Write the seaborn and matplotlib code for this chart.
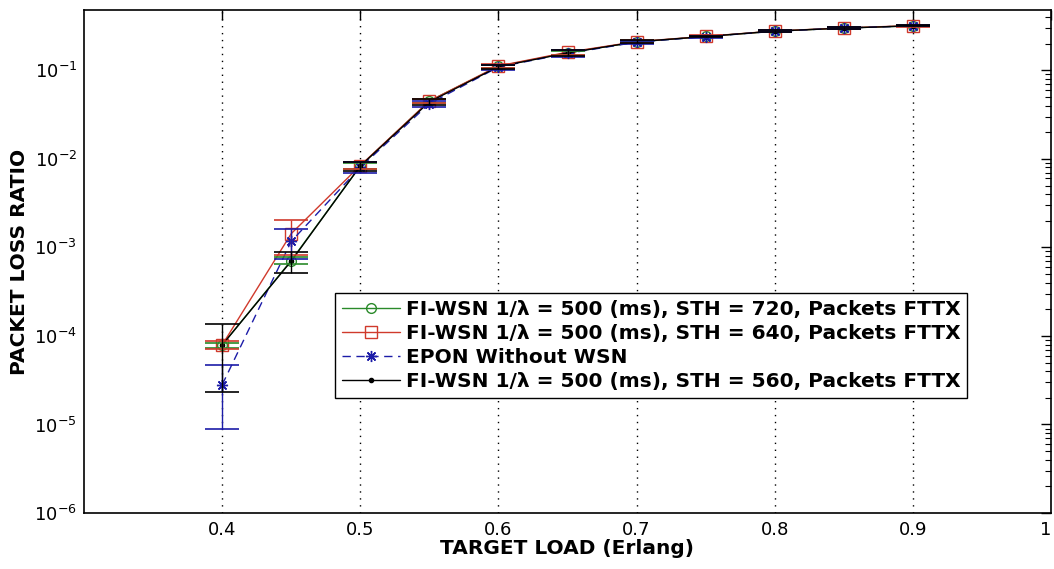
import numpy as np
import pandas as pd
import matplotlib
matplotlib.use("Agg")
import matplotlib.pyplot as plt
import matplotlib.transforms as mtransforms
import seaborn as sns
from matplotlib.ticker import LogLocator, FixedLocator, NullFormatter

# ---------------- data ----------------
load = [0.4, 0.45, 0.5, 0.55, 0.6, 0.65, 0.7, 0.75, 0.8, 0.85, 0.9]

sth720 = [7.9e-5, 7.1e-4, 8.3e-3, 4.5e-2, 0.111, 0.158, 0.209, 0.241, 0.277, 0.300, 0.318]
sth640 = [7.9e-5, 1.43e-3, 8.4e-3, 4.5e-2, 0.112, 0.160, 0.211, 0.242, 0.278, 0.301, 0.320]
epon   = [2.8e-5, 1.17e-3, 8.0e-3, 4.2e-2, 0.109, 0.155, 0.208, 0.240, 0.276, 0.300, 0.318]
sth560 = [7.9e-5, 7.0e-4, 8.3e-3, 4.4e-2, 0.110, 0.157, 0.210, 0.241, 0.277, 0.300, 0.318]

sth720_err = [5e-6, 6e-5, 6e-4, 2e-3, 5e-3, 8e-3, 6e-3, 5e-3, 5e-3, 5e-3, 5e-3]
sth640_err = [8e-6, 6e-4, 8e-4, 2.5e-3, 6e-3, 1.0e-2, 8e-3, 6e-3, 6e-3, 6e-3, 8e-3]
epon_err   = [1.9e-5, 4.3e-4, 1.1e-3, 3.5e-3, 7e-3, 1.5e-2, 8e-3, 6e-3, 6e-3, 5e-3, 5e-3]
sth560_err = [5.6e-5, 1.8e-4, 1.0e-3, 3e-3, 6e-3, 1.2e-2, 8e-3, 6e-3, 6e-3, 5e-3, 5e-3]

labels = [
    "FI-WSN 1/\u03bb = 500 (ms), STH = 720, Packets FTTX",
    "FI-WSN 1/\u03bb = 500 (ms), STH = 640, Packets FTTX",
    "EPON Without WSN",
    "FI-WSN 1/\u03bb = 500 (ms), STH = 560, Packets FTTX",
]
xticks = [0.4, 0.5, 0.6, 0.7, 0.8, 0.9, 1.0]
xticklabels = ["0.4", "0.5", "0.6", "0.7", "0.8", "0.9", "1"]

# ---------------- style ----------------
sns.set_theme(style="white")
plt.rcParams["font.family"] = ["DejaVu Sans"]
plt.rcParams["mathtext.fontset"] = "dejavusans"
plt.rcParams["text.color"] = "black"
plt.rcParams["axes.labelcolor"] = "black"

fig = plt.figure(figsize=(10.54, 5.69), dpi=100)
ax = fig.add_axes([84 / 1054, 56 / 569, 967 / 1054, 503 / 569])

series = [
    (sth720, sth720_err, "#2a8a2a", "-", "o", 7, "none"),
    (sth640, sth640_err, "#d03a2c", "-", "s", 8, "none"),
    (epon, epon_err, "#1c1ca8", (0, (6, 4)), (8, 2, 0), 8, None),
    (sth560, sth560_err, "#000000", "-", ".", 6, None),
]

for (vals, errs, col, ls, mk, ms, mfc), lab in zip(series, labels):
    df = pd.DataFrame({"load": load, "plr": vals})
    sns.lineplot(data=df, x="load", y="plr", ax=ax, color=col, linestyle=ls,
                 marker=mk, markersize=ms, linewidth=1.0, label=lab,
                 markerfacecolor=(mfc if mfc else col), markeredgecolor=col,
                 markeredgewidth=1.0, estimator=None, errorbar=None)
    ax.errorbar(load, vals, yerr=errs, fmt="none", ecolor=col, elinewidth=1.0,
                capsize=12, capthick=1.2, zorder=3)

ax.set_yscale("log")
ax.set_xlim(0.3, 1.0)
ax.set_ylim(1e-6, 0.48)

ax.xaxis.set_major_locator(FixedLocator(xticks))
ax.set_xticklabels(xticklabels)
ax.yaxis.set_major_locator(LogLocator(base=10, numticks=10))
ax.yaxis.set_minor_locator(LogLocator(base=10, subs=np.arange(2, 10), numticks=20))
ax.yaxis.set_minor_formatter(NullFormatter())

ax.tick_params(axis="both", which="both", direction="in", top=True, right=True,
               labelsize=13, colors="black")
ax.tick_params(axis="both", which="major", length=7, width=1)
ax.tick_params(axis="y", which="minor", length=4, width=0.8)
ax.tick_params(axis="x", which="major", pad=6)
ax.tick_params(axis="y", which="major", pad=5)

# keep the last "1" label inside the canvas
last = ax.get_xticklabels()[-1]
last.set_transform(last.get_transform() +
                   mtransforms.ScaledTranslation(-5 / 100, 0, fig.dpi_scale_trans))

for xv in xticks[:-1]:
    ax.axvline(xv, color="black", linestyle=(0, (1, 4)), linewidth=1.0, zorder=0)

for s in ax.spines.values():
    s.set_color("black")
    s.set_linewidth(1.2)

ax.set_xlabel("TARGET LOAD (Erlang)", fontsize=14.5, fontweight="bold",
              labelpad=0, color="black")
ax.set_ylabel("PACKET LOSS RATIO", fontsize=14.5, fontweight="bold",
              labelpad=4, color="black")

leg = ax.legend(loc="upper left", bbox_to_anchor=(0.2596, 0.438), borderaxespad=0,
                frameon=True, fancybox=False,
                prop={"weight": "bold", "size": 14.5}, handlelength=2.9,
                handletextpad=0.25, labelspacing=0.25, borderpad=0.35)
for t in leg.get_texts():
    t.set_color("black")
leg.get_frame().set_edgecolor("black")
leg.get_frame().set_linewidth(1.0)
leg.get_frame().set_facecolor("white")
leg.get_frame().set_alpha(1.0)

fig.savefig("out.png", dpi=100, facecolor="white")
